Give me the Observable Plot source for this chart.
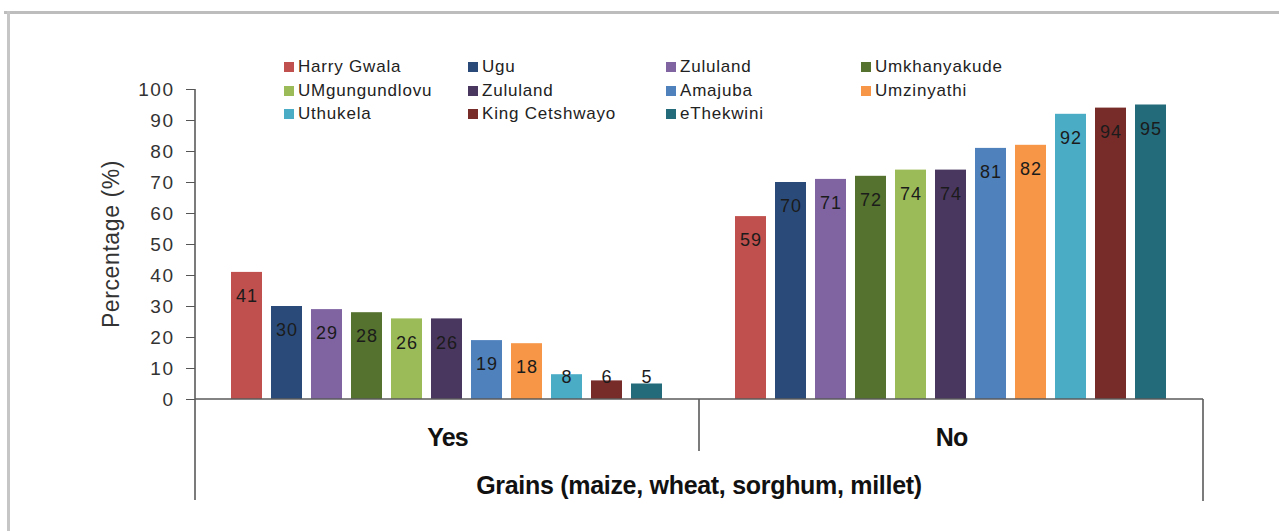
<!DOCTYPE html>
<html>
<head>
<meta charset="utf-8">
<script src="https://cdn.jsdelivr.net/npm/d3@7"></script>
<script src="https://cdn.jsdelivr.net/npm/@observablehq/plot@0.6"></script>
<style>
  body { margin: 0; background: #fff; }
  #wrap { position: relative; width: 1279px; height: 531px; overflow: hidden; background: #fff;
          font-family: "Liberation Sans", Arial, sans-serif; }
  #frameTop { position: absolute; left: 4px; top: 11px; width: 1275px; height: 3px; background: #bdbdbd; }
  #frameLeft { position: absolute; left: 7px; top: 11px; width: 3px; height: 520px; background: #c6c6c6; }
  #chart { position: absolute; left: 0; top: 0; }
  .li { position: absolute; font-size: 17px; letter-spacing: 0.8px; color: #222; white-space: nowrap;
        line-height: 20px; transform: translateY(-50%); }
  .sw { position: absolute; width: 10px; height: 10px; left: -14px; top: 5px; }
  #xtitle { position: absolute; left: 195px; width: 1008px; top: 471px; text-align: center;
            font-size: 25px; font-weight: bold; letter-spacing: -0.3px; color: #111; }
</style>
</head>
<body>
<div id="wrap">
  <div id="chart"></div>
  <div id="frameTop"></div>
  <div id="frameLeft"></div>
  <div id="legend"></div>
  <div id="xtitle"></div>
</div>
<script>
// ---- data ----
const districts = ["Harry Gwala", "Ugu", "Zululand", "Umkhanyakude", "UMgungundlovu", "Zululand",
                   "Amajuba", "Umzinyathi", "Uthukela", "King Cetshwayo", "eThekwini"];
const colors = ["#c0504d", "#2a4b7a", "#8064a2", "#55722e", "#9bbb59", "#4a3760",
                "#4f81bd", "#f79646", "#4bacc6", "#772c2a", "#236a7a"];
const groups = ["Yes", "No"];
const yesValues = [41, 30, 29, 28, 26, 26, 19, 18, 8, 6, 5];
const noValues = [59, 70, 71, 72, 74, 74, 81, 82, 92, 94, 95];
const yTicks = [0, 10, 20, 30, 40, 50, 60, 70, 80, 90, 100];
const yTitle = "Percentage (%)";
const xTitle = "Grains (maize, wheat, sorghum, millet)";

const seriesByGroup = { Yes: yesValues, No: noValues };
const data = [];
groups.forEach(g => districts.forEach((name, i) => {
  data.push({ group: g, key: i, name, value: seriesByGroup[g][i] });
}));

const W = 1279, H = 531;
const plot = Plot.plot({
  width: W, height: H,
  marginLeft: 195, marginRight: 76, marginTop: 89, marginBottom: 132,
  style: { fontFamily: "'Liberation Sans', Arial, sans-serif", background: "transparent" },
  fx: { domain: groups, padding: 0, label: null },
  x: { domain: d3.range(districts.length), paddingInner: 0.22, paddingOuter: 0.85, axis: null },
  y: { domain: [0, 100], label: null },
  color: { domain: d3.range(districts.length), range: colors },
  marks: [
    Plot.barY(data, { fx: "group", x: "key", y: "value", fill: "key" }),
    Plot.text(data, {
      fx: "group", x: "key", y: d => Math.max(d.value, 15), dy: 24,
      text: d => String(d.value), fill: "#1b1b1b", fontSize: 18
    }),
    Plot.axisY({ ticks: yTicks, tickSize: 9, tickPadding: 12, fontSize: 19, label: null,
                 stroke: "#555", fill: "#333" }),
    Plot.axisFx({ anchor: "bottom", tickSize: 0, tickPadding: 29, fontSize: 25, fontWeight: "bold",
                  fill: "#111", label: null })
  ]
});
document.getElementById("chart").appendChild(plot);

// frame/axis lines derived from scales
const svg = d3.select(plot);
const fx = plot.scale("fx"), y = plot.scale("y");
const xL = fx.apply(groups[0]);
const xM = fx.apply(groups[1]);
const xR = fx.apply(groups[1]) + fx.bandwidth;
const y0 = y.apply(0), yTop = y.apply(100);
const g = svg.append("g").attr("stroke", "#5a5a5a").attr("stroke-width", 1.6).attr("fill", "none");
g.append("line").attr("x1", xL).attr("x2", xL).attr("y1", yTop).attr("y2", y0 + 101);
g.append("line").attr("x1", xL).attr("x2", xR).attr("y1", y0).attr("y2", y0);
g.append("line").attr("x1", xM).attr("x2", xM).attr("y1", y0).attr("y2", y0 + 52);
g.append("line").attr("x1", xR).attr("x2", xR).attr("y1", y0).attr("y2", y0 + 102);

// tick label spacing & y title
svg.selectAll("g[aria-label='y-axis tick label'] text").style("letter-spacing", "1.5px");
svg.selectAll("text").filter(function () {
  return /^\d+$/.test(this.textContent) && this.closest("g[aria-label='y-axis tick label']") == null;
}).style("letter-spacing", "1px");
svg.selectAll("g[aria-label='fx-axis tick label'] text").style("letter-spacing", "-0.8px");
svg.append("text")
  .attr("transform", `translate(${195 - 82},${(y0 + yTop) / 2}) rotate(-90)`)
  .attr("text-anchor", "middle").attr("dominant-baseline", "middle")
  .attr("font-size", 23).attr("fill", "#333").style("letter-spacing", "0.6px")
  .text(yTitle);

// legend (HTML overlay)
const colX = [298, 482, 680, 875];
const rowY = [67, 91, 114];
const legend = document.getElementById("legend");
districts.forEach((name, i) => {
  const d = document.createElement("div");
  d.className = "li";
  d.style.left = colX[i % 4] + "px";
  d.style.top = rowY[Math.floor(i / 4)] + "px";
  const s = document.createElement("span");
  s.className = "sw";
  s.style.background = colors[i];
  d.appendChild(s);
  d.appendChild(document.createTextNode(name));
  legend.appendChild(d);
});
document.getElementById("xtitle").textContent = xTitle;
</script>
</body>
</html>
